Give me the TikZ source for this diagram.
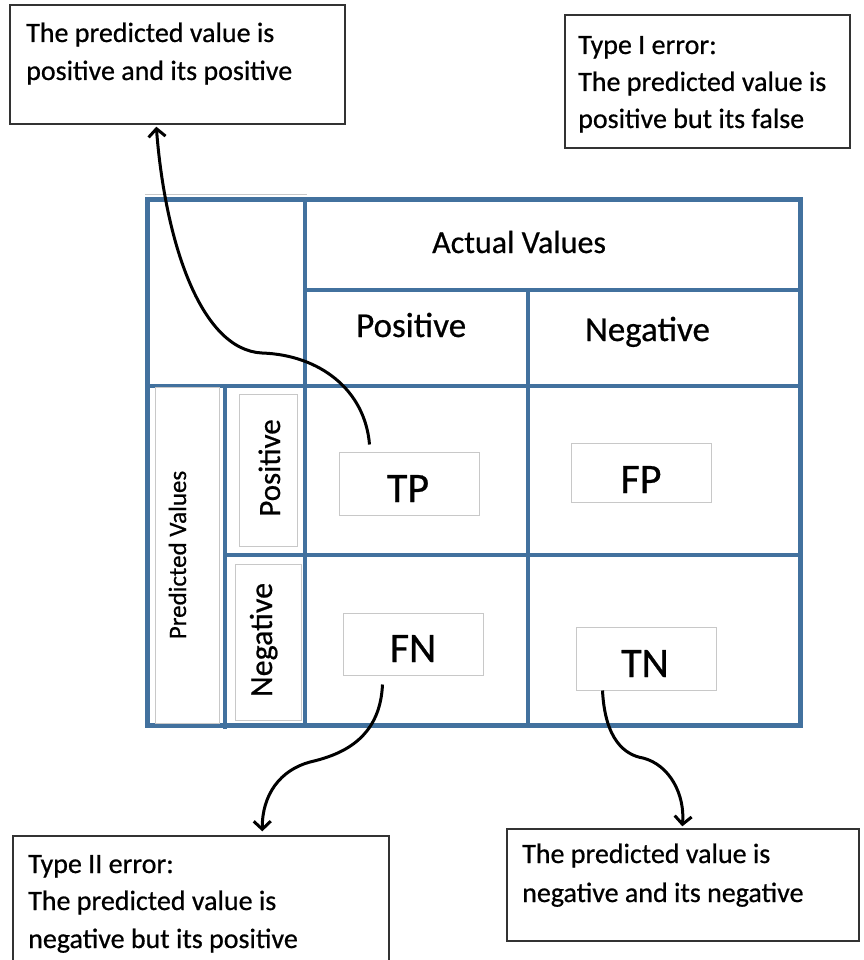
\documentclass[tikz,border=0pt]{standalone}
\usepackage{fontspec}
\setmainfont[FakeBold=0.6]{Carlito}
\usetikzlibrary{arrows.meta,calc}
\definecolor{mblue}{RGB}{66,113,158}
\definecolor{lgray}{RGB}{200,200,200}
\begin{document}
\begin{tikzpicture}[x=1pt,y=-1pt,
 callout/.style={draw=black!80,line width=1.4pt,rectangle,inner sep=0pt},
 cellbox/.style={draw=lgray,line width=1pt,rectangle,inner sep=0pt},
 gridline/.style={draw=mblue,line width=4.5pt},
 txt/.style={font=\fontsize{28}{38}\selectfont,anchor=base west,inner sep=0pt},
 cell/.style={font=\fontsize{42}{50}\selectfont,anchor=base,inner sep=0pt},
 lab/.style={inner sep=0pt},
 arr/.style={line width=3pt,-{Straight Barb[length=8pt,width=17pt]}}
]
\useasboundingbox (0,0) rectangle (863,960);

% matrix grid
\draw[lgray,line width=1pt] (145,194.5) -- (307,194.5);
\draw[gridline,line width=5pt] (147,199) rectangle (800,725);
\draw[gridline] (305,199) -- (305,725);
\draw[gridline] (305,290) -- (800,290);
\draw[gridline,line width=3.5pt] (528,290) -- (528,725);
\draw[gridline] (147,386) -- (800,386);
\draw[gridline] (225,386) -- (225,729);
\draw[gridline] (225,555) -- (800,555);

% header texts
\node[lab,anchor=base west,font=\fontsize{32}{38}\selectfont] (actual) at (432,253) {Actual Values};
\node[lab,anchor=base west,font=\fontsize{35}{40}\selectfont] (apos) at (356,337) {Positive};
\node[lab,anchor=base west,font=\fontsize{35}{40}\selectfont] (aneg) at (585,341) {Negative};

% left side boxes
\node[cellbox,minimum width=64pt,minimum height=336pt] (pvbox) at (187,555) {};
\node[cellbox,minimum width=58pt,minimum height=152pt] (pposbox) at (268,470) {};
\node[cellbox,minimum width=66pt,minimum height=156pt] (pnegbox) at (268,642) {};
\node[lab,rotate=90,anchor=base,font=\fontsize{25}{30}\selectfont] (pv) at (186,555) {Predicted Values};
\node[lab,rotate=90,anchor=base,font=\fontsize{31}{36}\selectfont] (ppos) at (280,468) {Positive};
\node[lab,rotate=90,anchor=base,font=\fontsize{32}{36}\selectfont] (pneg) at (272,640) {Negative};

% cell boxes
\node[cellbox,minimum width=140pt,minimum height=63pt] (tp) at (409,483.5) {};
\node[cellbox,minimum width=140pt,minimum height=59pt] (fp) at (641,472.5) {};
\node[cellbox,minimum width=140pt,minimum height=62pt] (fn) at (413,644) {};
\node[cellbox,minimum width=140pt,minimum height=63pt] (tn) at (646,658.5) {};
\node[cell] (tpt) at (408,502) {TP};
\node[cell] (fpt) at (641,493) {FP};
\node[cell] (fnt) at (413,662) {FN};
\node[cell] (tnt) at (645,677) {TN};

% callout boxes
\node[callout,minimum width=335pt,minimum height=119pt] (tl) at (177.5,64.5) {};
\node[callout,minimum width=285pt,minimum height=133pt] (tr) at (707.5,81.5) {};
\node[callout,minimum width=376pt,minimum height=140pt] (bl) at (201,906) {};
\node[callout,minimum width=352pt,minimum height=112pt] (br) at (683,885) {};

\node[txt] (tl1) at (26,42) {The predicted value is};
\node[txt] (tl2) at (26,80) {positive and its positive};
\node[txt] (tr1) at (578,54) {Type I error:};
\node[txt] (tr2) at (578,91) {The predicted value is};
\node[txt] (tr3) at (578,128) {positive but its false};
\node[txt] (bl1) at (28,873) {Type II error:};
\node[txt] (bl2) at (28,910) {The predicted value is};
\node[txt] (bl3) at (28,948) {negative but its positive};
\node[txt] (br1) at (522,863) {The predicted value is};
\node[txt] (br2) at (522,902) {negative and its negative};

% arrows
\draw[arr] ($(tp.north west)+(31,-7)$) .. controls (365,390) and (320,355) .. (262,353)
  .. controls (200,350) and (165,240) .. ($(tl.south west)+(147,2)$);
\draw[arr] ($(fn.south west)+(40,9)$) .. controls (380,740) and (340,755) .. (310,762)
  .. controls (280,770) and (262,795) .. ($(bl.north west)+(250,-4)$);
\draw[arr] ($(tn.south west)+(27,0)$) .. controls (605,740) and (625,755) .. (643,758)
  .. controls (670,765) and (685,795) .. ($(br.north west)+(176,-2)$);
\end{tikzpicture}
\end{document}
